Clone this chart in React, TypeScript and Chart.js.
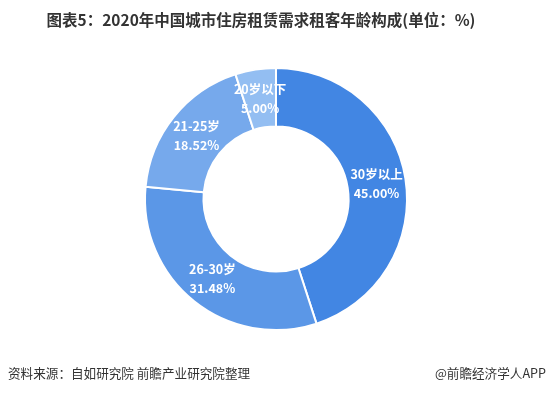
import React, { useEffect, useRef } from "react";
import { Chart, registerables } from "chart.js";

Chart.register(...registerables);

const TITLE = "图表5：2020年中国城市住房租赁需求租客年龄构成(单位：%)";
const SOURCE = "资料来源：自如研究院 前瞻产业研究院整理";
const BRAND = "@前瞻经济学人APP";
const categories = ["30岁以上", "26-30岁", "21-25岁", "20岁以下"];
const values = [45.0, 31.48, 18.52, 5.0];
const colors = ["#4286E3", "#5B97E7", "#76A9EC", "#93BEF2"];

const FONT = "'Noto Sans CJK SC', 'Noto Sans', sans-serif";

const textPlugin = {
  id: "textPlugin",
  afterDatasetsDraw(chart: any) {
    const ctx = chart.ctx;
    const meta = chart.getDatasetMeta(0);
    ctx.save();
    ctx.fillStyle = "#ffffff";
    ctx.textAlign = "center";
    ctx.textBaseline = "middle";
    ctx.font = `bold 12.5px ${FONT}`;
    meta.data.forEach((arc: any, i: number) => {
      const p = arc.tooltipPosition();
      ctx.fillText(categories[i], p.x, p.y - 9);
      ctx.fillText(values[i].toFixed(2) + "%", p.x, p.y + 10);
    });
    ctx.restore();
  },
  afterDraw(chart: any) {
    const ctx = chart.ctx;
    ctx.save();
    ctx.fillStyle = "#333333";
    ctx.textBaseline = "middle";
    ctx.font = `bold 15.5px ${FONT}`;
    ctx.textAlign = "center";
    ctx.fillText(TITLE, 261, 20);
    ctx.font = `12.6px ${FONT}`;
    ctx.textAlign = "left";
    ctx.fillText(SOURCE, 8, 373);
    ctx.textAlign = "right";
    ctx.fillText(BRAND, 546, 373);
    ctx.restore();
  },
};

export default function App() {
  const ref = useRef<HTMLCanvasElement>(null);
  useEffect(() => {
    document.body.style.margin = "0";
    const chart = new Chart(ref.current!, {
      type: "doughnut",
      data: {
        labels: categories,
        datasets: [
          {
            data: values,
            backgroundColor: colors,
            borderColor: "#ffffff",
            borderWidth: 2,
          },
        ],
      },
      options: {
        animation: false,
        responsive: false,
        radius: 131,
        cutout: 72,
        layout: { padding: { top: 68, bottom: 64, left: 3, right: 0 } },
        plugins: {
          legend: { display: false },
          tooltip: { enabled: false },
          title: { display: false },
        },
      },
      plugins: [textPlugin],
    });
    return () => chart.destroy();
  }, []);
  return (
    <div style={{ position: "fixed", left: 0, top: 0, width: 549, height: 394, background: "#fff" }}>
      <canvas ref={ref} width={549} height={394} style={{ width: 549, height: 394 }} />
    </div>
  );
}
